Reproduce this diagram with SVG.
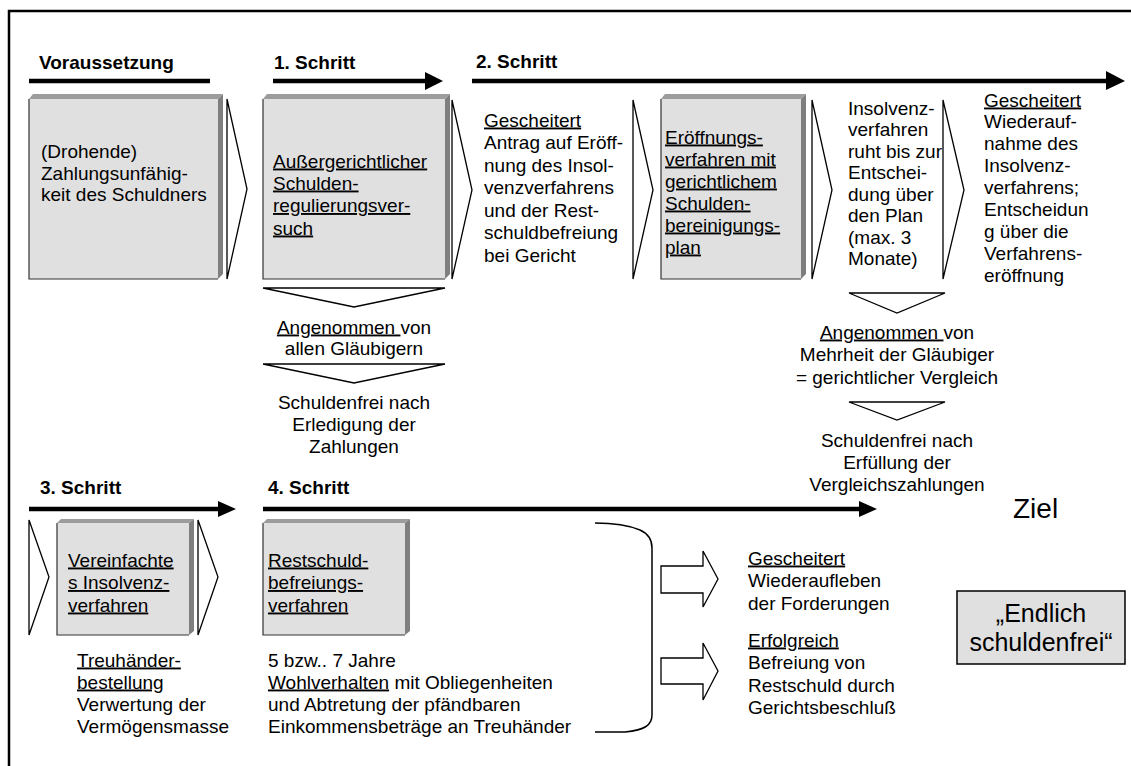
<svg xmlns="http://www.w3.org/2000/svg" width="1131" height="766" viewBox="0 0 1131 766">
<style>
text{font-family:"Liberation Sans",Arial,sans-serif;font-size:19px;fill:#000}
.h{font-weight:bold;font-size:19px}
.u{text-decoration:underline}
.c{text-anchor:middle}
.front{fill:#e0e0e0}
.edge{fill:none;stroke:#333;stroke-width:1.2}
.top{fill:#9c9c9c}
.side{fill:#7f7f7f}
.chev{fill:#fff;stroke:#000;stroke-width:1.3;stroke-linejoin:miter}
.bar{stroke:#000;stroke-width:4.5;fill:none}
.head{fill:#000}
</style>
<rect x="0" y="0" width="1131" height="766" fill="#fff"/>
<path d="M9,766 V11 H1131" fill="none" stroke="#000" stroke-width="2.5"/>

<g id="connectors">
<line class="bar" x1="29" y1="81" x2="210" y2="81"/>
<line class="bar" x1="273" y1="81" x2="427" y2="81"/><polygon class="head" points="425,72 443,81 425,90"/>
<line class="bar" x1="472" y1="81" x2="1108" y2="81"/><polygon class="head" points="1106,71 1125,81 1106,90"/>
<line class="bar" x1="29" y1="509" x2="220" y2="509"/><polygon class="head" points="218,501 236,509 218,517"/>
<line class="bar" x1="263" y1="509" x2="861" y2="509"/><polygon class="head" points="859,501 877,509 859,517"/>
<polygon class="chev" points="227,99 247,189 227,279"/>
<polygon class="chev" points="452,100 472,190 452,279"/>
<polygon class="chev" points="633,100 653,190 633,279"/>
<polygon class="chev" points="812,100 832,190 812,279"/>
<polygon class="chev" points="943,100 964,190 943,279"/>
<polygon class="chev" points="29,520 49,577 29,635"/>
<polygon class="chev" points="198,520 218,577 198,635"/>
<polygon class="chev" points="263,288 445,288 354,307"/>
<polygon class="chev" points="263,364 445,364 354,383"/>
<polygon class="chev" points="849,293 945,293 897,313"/>
<polygon class="chev" points="849,402 945,402 897,420"/>
<path d="M595,523 C615,523 628,525 640,530 C649,534 652,540 652,548 L652,715 C652,725 645,730 625,732 L595,732" fill="none" stroke="#000" stroke-width="1.5"/>
<polygon class="chev" points="661,566 703,566 703,551 718,579 703,607 703,593 661,593"/>
<polygon class="chev" points="661,658 703,658 703,643 718,671 703,700 703,684 661,684"/>
</g>

<g id="headings">
<text class="h" x="39" y="69">Voraussetzung</text>
<text class="h" x="274" y="69">1. Schritt</text>
<text class="h" x="476" y="68">2. Schritt</text>
<text class="h" x="40" y="494">3. Schritt</text>
<text class="h" x="268" y="494">4. Schritt</text>
</g>

<g id="box1">
<polygon class="top" points="29,99 33,94 223,94 218,99"/>
<polygon class="side" points="218,99 223,94 223,274 218,279"/>
<rect class="front" x="29" y="99" width="189" height="180"/>
<path class="edge" d="M29,99 V279 H218"/>
<text x="41" y="158">(Drohende)</text>
<text x="41" y="179.5">Zahlungsunfähig-</text>
<text x="41" y="201">keit des Schuldners</text>
</g>

<g id="box2">
<polygon class="top" points="263,99 267,94 450,94 445,99"/>
<polygon class="side" points="445,99 450,94 450,274 445,279"/>
<rect class="front" x="263" y="99" width="182" height="180"/>
<path class="edge" d="M263,99 V279 H445"/>
<text class="u" x="273" y="167.5">Außergerichtlicher</text>
<text class="u" x="273" y="189.5">Schulden-</text>
<text class="u" x="273" y="212">regulierungsver-</text>
<text class="u" x="273" y="234.5">such</text>
</g>

<g id="accepted1">
<text class="c" x="354" y="333.5"><tspan class="u">Angenommen </tspan>von</text>
<text class="c" x="354" y="354.5">allen Gläubigern</text>
</g>
<g id="free1">
<text class="c" x="354" y="408.5">Schuldenfrei nach</text>
<text class="c" x="354" y="430.5">Erledigung der</text>
<text class="c" x="354" y="452.5">Zahlungen</text>
</g>

<g id="failed1">
<text class="u" x="484" y="126.5">Gescheitert</text>
<text x="484" y="149">Antrag auf Eröff-</text>
<text x="484" y="171.5">nung des Insol-</text>
<text x="484" y="194">venzverfahrens</text>
<text x="484" y="216.5">und der Rest-</text>
<text x="484" y="239">schuldbefreiung</text>
<text x="484" y="261.5">bei Gericht</text>
</g>

<g id="box3">
<polygon class="top" points="661,99 665,94 806,94 801,99"/>
<polygon class="side" points="801,99 806,94 806,274 801,279"/>
<rect class="front" x="661" y="99" width="140" height="180"/>
<path class="edge" d="M661,99 V279 H801"/>
<text class="u" x="665" y="143.5">Eröffnungs-</text>
<text class="u" x="665" y="165.5">verfahren mit</text>
<text class="u" x="665" y="187.5">gerichtlichem</text>
<text class="u" x="665" y="209.5">Schulden-</text>
<text class="u" x="665" y="231.5">bereinigungs-</text>
<text class="u" x="665" y="253.5">plan</text>
</g>

<g id="rest">
<text x="848" y="114.5">Insolvenz-</text>
<text x="848" y="136">verfahren</text>
<text x="848" y="157.5">ruht bis zur</text>
<text x="848" y="179">Entschei-</text>
<text x="848" y="200.5">dung über</text>
<text x="848" y="222">den Plan</text>
<text x="848" y="243.5">(max. 3</text>
<text x="848" y="265">Monate)</text>
</g>

<g id="failed2">
<text class="u" x="984" y="106.5">Gescheitert</text>
<text x="984" y="128.4">Wiederauf-</text>
<text x="984" y="150.3">nahme des</text>
<text x="984" y="172.2">Insolvenz-</text>
<text x="984" y="194.1">verfahrens;</text>
<text x="984" y="216">Entscheidun</text>
<text x="984" y="237.9">g über die</text>
<text x="984" y="259.8">Verfahrens-</text>
<text x="984" y="281.7">eröffnung</text>
</g>

<g id="accepted2">
<text class="c" x="897" y="338.5"><tspan class="u">Angenommen </tspan>von</text>
<text class="c" x="897" y="361">Mehrheit der Gläubiger</text>
<text class="c" x="897" y="383.5">= gerichtlicher Vergleich</text>
</g>
<g id="free2">
<text class="c" x="897" y="446.5">Schuldenfrei nach</text>
<text class="c" x="897" y="468.5">Erfüllung der</text>
<text class="c" x="897" y="490.5">Vergleichszahlungen</text>
</g>

<g id="box4">
<polygon class="top" points="57,523 61,519 194,519 189,523"/>
<polygon class="side" points="189,523 194,519 194,631 189,635"/>
<rect class="front" x="57" y="523" width="132" height="112"/>
<path class="edge" d="M57,523 V635 H189"/>
<text class="u" x="68" y="566.5">Vereinfachte</text>
<text class="u" x="68" y="589">s Insolvenz-</text>
<text class="u" x="68" y="611.5">verfahren</text>
</g>
<g id="trustee">
<text class="u" x="77" y="666.5">Treuhänder-</text>
<text class="u" x="77" y="688.5">bestellung</text>
<text x="77" y="710.5">Verwertung der</text>
<text x="77" y="733">Vermögensmasse</text>
</g>

<g id="box5">
<polygon class="top" points="263,523 267,519 410,519 405,523"/>
<polygon class="side" points="405,523 410,519 410,631 405,635"/>
<rect class="front" x="263" y="523" width="142" height="112"/>
<path class="edge" d="M263,523 V635 H405"/>
<text class="u" x="268" y="566.5">Restschuld-</text>
<text class="u" x="268" y="589">befreiungs-</text>
<text class="u" x="268" y="611.5">verfahren</text>
</g>
<g id="conduct">
<text x="268" y="666.5">5 bzw.. 7 Jahre</text>
<text x="268" y="688.5"><tspan class="u">Wohlverhalten</tspan> mit Obliegenheiten</text>
<text x="268" y="710.5">und Abtretung der pfändbaren</text>
<text x="268" y="733">Einkommensbeträge an Treuhänder</text>
</g>

<g id="failed3">
<text class="u" x="748" y="564.5">Gescheitert</text>
<text x="748" y="587">Wiederaufleben</text>
<text x="748" y="609.5">der Forderungen</text>
</g>
<g id="success">
<text class="u" x="748" y="646.5">Erfolgreich</text>
<text x="748" y="669">Befreiung von</text>
<text x="748" y="691.5">Restschuld durch</text>
<text x="748" y="714">Gerichtsbeschluß</text>
</g>

<g id="goal">
<text x="1013" y="518" style="font-size:28px">Ziel</text>
<rect x="957" y="591" width="168" height="73" fill="#e0e0e0" stroke="#000" stroke-width="1.5"/>
<text class="c" x="1041" y="622" style="font-size:25px">„Endlich</text>
<text class="c" x="1041" y="651" style="font-size:25px">schuldenfrei“</text>
</g>
</svg>
